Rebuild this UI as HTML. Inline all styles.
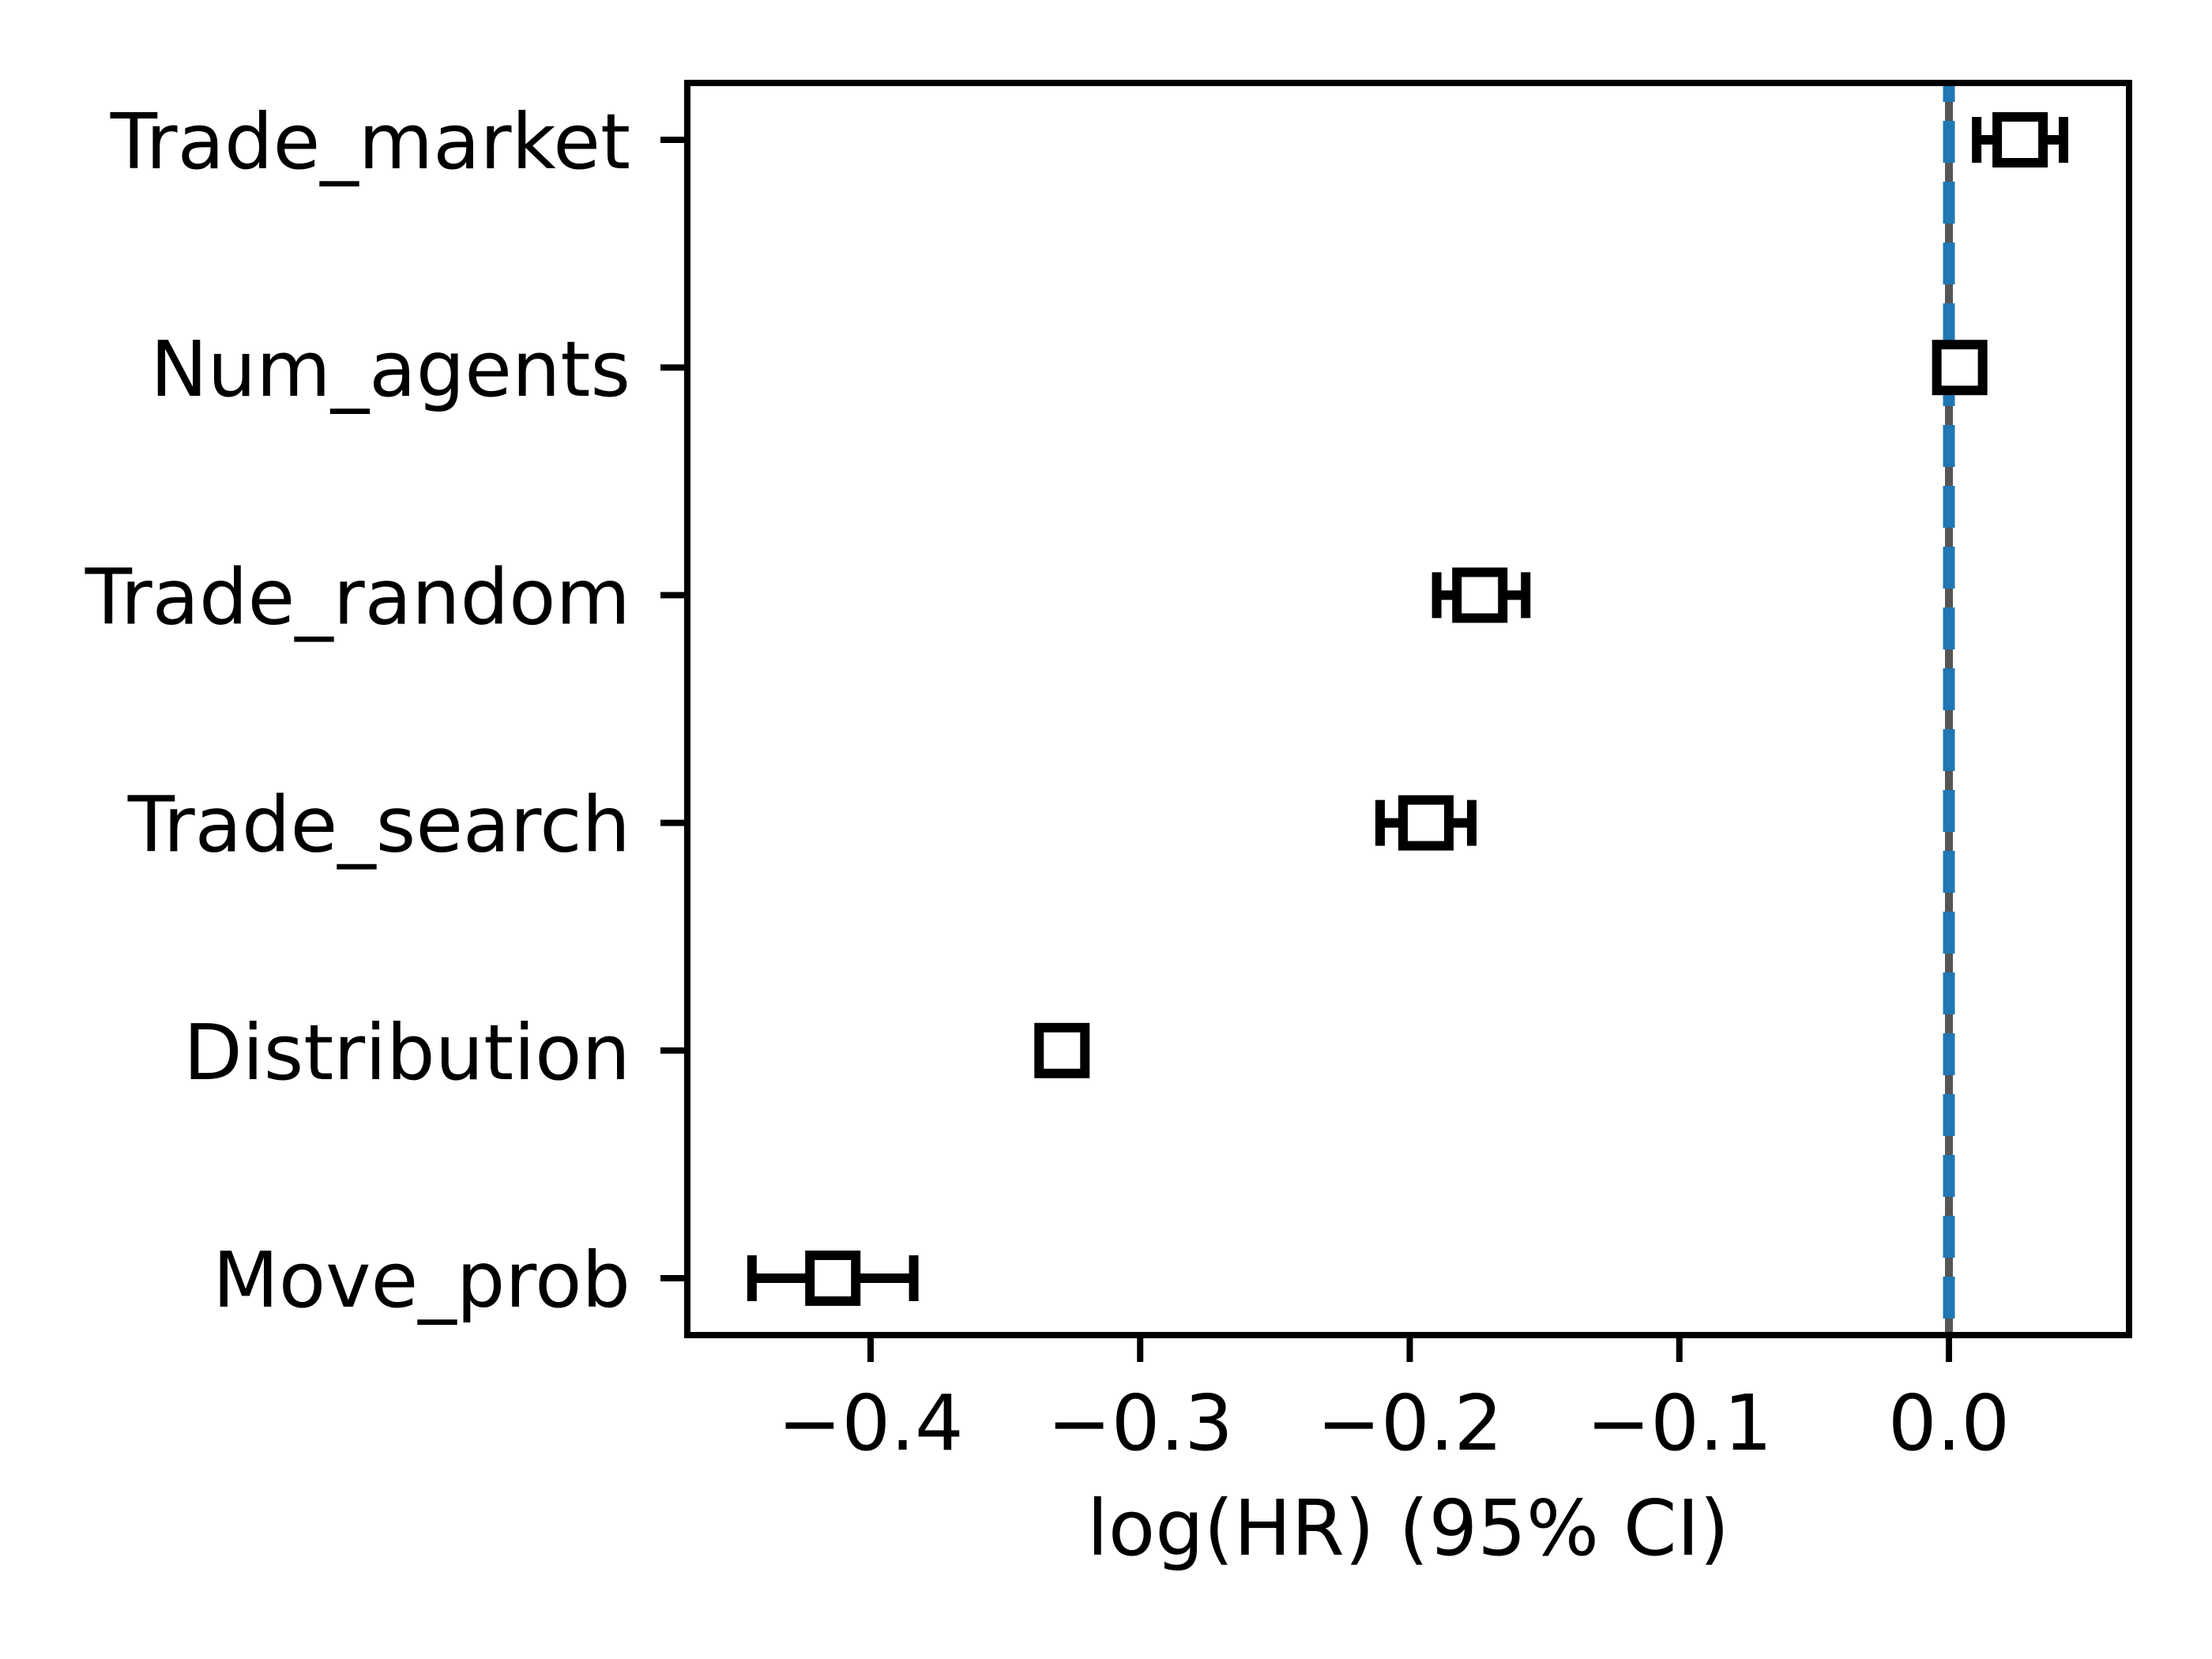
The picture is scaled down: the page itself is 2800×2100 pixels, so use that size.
<!DOCTYPE html>
<html><head><meta charset="utf-8"><style>
html,body{margin:0;padding:0;background:#fff}
svg{display:block}
text{font-family:"DejaVu Sans","Liberation Sans",sans-serif;fill:#000}
</style></head><body>
<svg id="chart" width="2800" height="2100" viewBox="0 0 2800 2100" xmlns="http://www.w3.org/2000/svg">
<rect width="2800" height="2100" fill="#fff"/>
<g id="plot"></g>
</svg>
<script>
const categories = ["Trade_market","Num_agents","Trade_random","Trade_search","Distribution","Move_prob"];
const estimates = [0.0264, 0.004, -0.174, -0.194, -0.329, -0.414];
const ciLower = [0.0103, 0.004, -0.190, -0.211, -0.329, -0.444];
const ciUpper = [0.0425, 0.004, -0.157, -0.177, -0.329, -0.384];
const xTicks = [-0.4, -0.3, -0.2, -0.1, 0.0];
const xTickLabels = ["\u22120.4","\u22120.3","\u22120.2","\u22120.1","0.0"];

const L=870, R=2695, T=105, B=1690;
const x0px=2467, perUnit=3412.5;
function xScale(v){return x0px+v*perUnit;}
const yTop=177, yStep=288.2;
function yScale(i){return yTop+i*yStep;}

const NS="http://www.w3.org/2000/svg";
const g=document.getElementById('plot');
function el(tag,attrs,parent){const e=document.createElementNS(NS,tag);for(const k in attrs)e.setAttribute(k,attrs[k]);(parent||g).appendChild(e);return e;}

// zero lines
const zl=el('line',{x1:xScale(0),x2:xScale(0),y1:T,y2:B,stroke:'#555',"stroke-width":10});


const zb=el('line',{x1:xScale(0),x2:xScale(0),y1:T,y2:B,stroke:'#1f77b4',"stroke-width":15,"stroke-dasharray":"53 24","stroke-dashoffset":"29"});



// rows
categories.forEach((c,i)=>{
  const y=yScale(i);
  const grp=el('g',{});
  
  
  const lo=xScale(ciLower[i]), hi=xScale(ciUpper[i]), cx=xScale(estimates[i]);
  const ci=el('line',{x1:lo,x2:hi,y1:y,y2:y,stroke:'#000',"stroke-width":12},grp);
  
  
  [lo,hi].forEach(xx=>{
    const cap=el('line',{x1:xx,x2:xx,y1:y-29,y2:y+29,stroke:'#000',"stroke-width":12},grp);
    
    
  });
  const box=el('rect',{x:cx-29,y:y-29,width:58,height:58,fill:'#fff',stroke:'#000',"stroke-width":12},grp);
  
  
  const tk=el('line',{x1:836,x2:L,y1:y,y2:y,stroke:'#000',"stroke-width":8});
  
  
  const t=el('text',{x:798,y:y+36,"text-anchor":"end","font-size":97});
  t.textContent=c;
  
  
});

// x ticks
xTicks.forEach((v,i)=>{
  const x=xScale(v);
  const tk=el('line',{x1:x,x2:x,y1:B,y2:B+34,stroke:'#000',"stroke-width":8});
  
  
  const t=el('text',{x:x,y:1835,"text-anchor":"middle","font-size":97});
  t.textContent=xTickLabels[i];
  
  
});

// spines
const sp=el('rect',{x:L,y:T,width:R-L,height:B-T,fill:'none',stroke:'#000',"stroke-width":8});



const xl=el('text',{x:(L+R)/2,y:1968,"text-anchor":"middle","font-size":97});
xl.textContent='log(HR) (95% CI)';


</script>
</body></html>
